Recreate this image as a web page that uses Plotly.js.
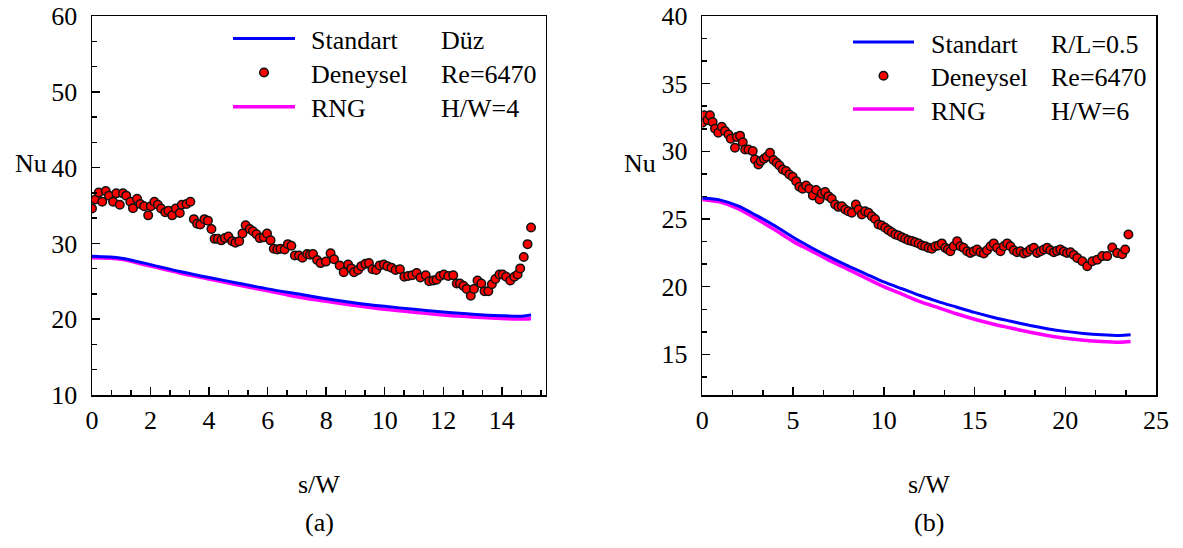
<!DOCTYPE html>
<html>
<head>
<meta charset="utf-8">
<script src="https://cdn.plot.ly/plotly-3.0.1.min.js"></script>
<style>html,body{margin:0;padding:0;background:#fff;}#chart{width:1183px;height:548px;}</style>
</head>
<body>
<div id="chart"></div>
<script>
// ---------- (a) Düz, Re=6470, H/W=4 ----------
const leftExpS = [
  0, 0.115, 0.23, 0.35, 0.47, 0.58, 0.72, 0.83, 0.95, 1.06,
  1.17, 1.31, 1.40, 1.54, 1.65, 1.78, 1.92, 2.01, 2.13, 2.25,
  2.36, 2.50, 2.61, 2.74, 2.86, 3.00, 3.07, 3.23, 3.36, 3.48,
  3.59, 3.70, 3.84, 3.96, 4.08, 4.19, 4.30, 4.42, 4.54, 4.66,
  4.79, 4.90, 5.03, 5.14, 5.25, 5.39, 5.50, 5.62, 5.73, 5.87,
  5.98, 6.10, 6.21, 6.33, 6.44, 6.58, 6.69, 6.81, 6.93, 7.07,
  7.19, 7.35, 7.45, 7.55, 7.69, 7.81, 7.99, 8.15, 8.27, 8.46,
  8.60, 8.75, 8.86, 8.95, 9.09, 9.20, 9.34, 9.46, 9.58, 9.71,
  9.83, 9.97, 10.09, 10.23, 10.37, 10.52, 10.67, 10.80, 10.94, 11.09,
  11.22, 11.40, 11.52, 11.66, 11.77, 11.89, 12.02, 12.17, 12.34, 12.46,
  12.57, 12.69, 12.80, 12.94, 13.05, 13.17, 13.30, 13.41, 13.54, 13.66,
  13.78, 13.92, 14.03, 14.15, 14.29, 14.43, 14.54, 14.63, 14.75, 14.88, 15.0
];
const leftExpNu = [
  34.6, 35.8, 36.7, 35.5, 36.9, 36.3, 35.5, 36.6, 35.1, 36.6,
  36.3, 35.5, 34.65, 35.9, 35.2, 34.9, 33.7, 34.9, 35.5, 35.1,
  34.6, 34.1, 34.3, 33.7, 34.6, 34.0, 35.1, 35.2, 35.5, 33.2,
  32.6, 32.5, 33.2, 33.0, 31.9, 30.6, 30.6, 30.4, 30.7, 30.9,
  30.3, 30.1, 30.3, 31.3, 32.4, 31.9, 31.6, 31.2, 30.7, 30.8,
  31.3, 30.4, 29.3, 29.2, 29.3, 29.2, 29.9, 29.7, 28.4, 28.4,
  28.1, 28.6, 28.5, 28.6, 27.8, 27.4, 27.6, 28.7, 27.9, 27.1,
  26.2, 27.2, 26.7, 26.2, 26.5, 27.0, 27.3, 27.4, 26.6, 26.5,
  27.1, 27.2, 27.0, 26.8, 26.5, 26.6, 25.6, 25.7, 25.8, 26.1,
  25.5, 25.8, 25.0, 25.1, 25.2, 25.7, 25.9, 25.7, 25.8, 24.7,
  24.7, 24.4, 24.0, 23.1, 24.0, 25.1, 24.7, 23.7, 23.7, 24.6,
  25.3, 25.9, 25.9, 25.6, 25.1, 25.6, 25.9, 26.7, 28.2, 29.9, 32.1
];
const leftModelS  = [0, 1, 2, 3, 4, 5, 6, 7, 8, 9, 10, 11, 12, 13, 14, 14.7, 15];
const leftStdNu   = [28.3, 28.05, 27.2, 26.3, 25.5, 24.75, 24.0, 23.35, 22.7, 22.15, 21.7, 21.3, 20.95, 20.65, 20.45, 20.4, 20.55];
const leftRngNu   = [28.1, 27.9, 27.0, 26.1, 25.3, 24.5, 23.75, 22.95, 22.35, 21.8, 21.3, 20.9, 20.55, 20.3, 20.1, 20.02, 20.05];

// ---------- (b) R/L=0.5, Re=6470, H/W=6 ----------
const rightExpS = [
  0, 0.09, 0.28, 0.42, 0.57, 0.70, 0.88, 1.07, 1.25, 1.44,
  1.57, 1.80, 1.90, 2.08, 2.23, 2.36, 2.54, 2.78, 2.90, 3.09,
  3.22, 3.40, 3.55, 3.73, 3.92, 4.10, 4.25, 4.43, 4.62, 4.80,
  4.98, 5.17, 5.35, 5.53, 5.72, 5.90, 6.09, 6.27, 6.46, 6.58,
  6.77, 6.95, 7.13, 7.32, 7.50, 7.69, 7.87, 8.05, 8.24, 8.46,
  8.61, 8.79, 8.97, 9.16, 9.34, 9.52, 9.71, 9.89, 10.08, 10.26,
  10.44, 10.63, 10.81, 11.00, 11.18, 11.36, 11.55, 11.73, 11.92, 12.10,
  12.28, 12.47, 12.65, 12.84, 13.02, 13.20, 13.39, 13.53, 13.67, 13.85,
  14.04, 14.22, 14.40, 14.59, 14.77, 14.96, 15.14, 15.32, 15.51, 15.69,
  15.88, 16.06, 16.24, 16.43, 16.61, 16.80, 16.98, 17.16, 17.35, 17.53,
  17.72, 17.90, 18.08, 18.27, 18.45, 18.64, 18.82, 19.00, 19.18, 19.37,
  19.55, 19.73, 19.92, 20.10, 20.29, 20.47, 20.66, 20.94, 21.21, 21.49,
  21.76, 22.04, 22.31, 22.59, 22.86, 23.14, 23.30, 23.48
];
const rightExpNu = [
  32.12, 32.66, 32.31, 32.66, 32.16, 31.67, 31.38, 31.82, 31.5, 31.25,
  30.93, 30.27, 31.06, 31.16, 30.67, 30.14, 30.14, 30.02, 29.4, 29.03,
  29.28, 29.45, 29.6, 29.9, 29.36, 29.16, 28.96, 28.66, 28.54, 28.29,
  28.12, 27.8, 27.38, 27.24, 27.48, 27.24, 26.74, 27.14, 26.45, 26.89,
  26.99, 26.69, 26.5, 26.08, 25.9, 25.95, 25.7, 25.58, 25.46, 26.08,
  25.7, 25.33, 25.58, 25.46, 25.21, 25.0, 24.6, 24.52, 24.35, 24.18,
  24.03, 23.86, 23.78, 23.66, 23.54, 23.44, 23.37, 23.29, 23.19, 23.04,
  22.99, 22.87, 22.8, 22.99, 23.04, 23.2, 22.87, 22.75, 22.62, 22.99,
  23.36, 22.99, 22.87, 22.62, 22.5, 22.62, 22.75, 22.55, 22.45, 22.7,
  22.99, 23.2, 22.87, 22.62, 22.99, 23.2, 22.99, 22.7, 22.55, 22.62,
  22.45, 22.55, 22.75, 22.87, 22.5, 22.62, 22.75, 22.87, 22.7, 22.55,
  22.65, 22.75, 22.6, 22.5, 22.55, 22.35, 22.13, 21.88, 21.51, 21.88,
  22.0, 22.26, 22.26, 22.9, 22.5, 22.4, 22.75, 23.86
];
const rightModelS = [0, 1, 2, 3, 4, 5, 6, 7, 8, 9, 10, 11, 12, 13, 14, 15, 16, 17, 18, 19, 20, 21, 22, 23, 23.6];
const rightStdNu  = [26.55, 26.4, 25.95, 25.25, 24.5, 23.65, 22.9, 22.2, 21.55, 20.95, 20.35, 19.85, 19.35, 18.9, 18.5, 18.1, 17.75, 17.45, 17.15, 16.9, 16.7, 16.55, 16.45, 16.4, 16.45];
const rightRngNu  = [26.45, 26.25, 25.75, 25.0, 24.2, 23.35, 22.65, 21.95, 21.3, 20.65, 20.0, 19.45, 18.9, 18.45, 18.0, 17.6, 17.25, 16.95, 16.65, 16.4, 16.2, 16.05, 15.95, 15.9, 15.95];

// ---------- texts ----------
const seriesNames = ['Standart', 'Deneysel', 'RNG'];
const leftInfo  = ['Düz', 'Re=6470', 'H/W=4'];
const rightInfo = ['R/L=0.5', 'Re=6470', 'H/W=6'];
const xTitle = 's/W', yTitle = 'Nu';
const panelLabels = ['(a)', '(b)'];

// ---------- styling ----------
const FONT = 'Liberation Serif';
const FS = 26;
const BLUE = '#0000ff', MAG = '#ff00ff', RED = '#ff0000';
const W = 1183, H = 548;
const M = {l: 92, r: 27, t: 16, b: 153};
const PW = W - M.l - M.r, PH = H - M.t - M.b;
const px = x => (x - M.l) / PW;
const py = y => (H - M.b - y) / PH;

function lineTrace(x, y, color, width, xa, ya) {
  return {x, y, type: 'scatter', mode: 'lines', xaxis: xa, yaxis: ya,
    line: {color, width, shape: 'spline', smoothing: 0.8}, showlegend: false, hoverinfo: 'skip'};
}
function markerTrace(x, y, xa, ya) {
  return {x, y, type: 'scatter', mode: 'markers', xaxis: xa, yaxis: ya,
    marker: {color: RED, size: 8.5, line: {color: '#111', width: 1.5}}, showlegend: false};
}

const data = [
  lineTrace(leftModelS, leftRngNu, MAG, 3.5, 'x', 'y'),
  lineTrace(leftModelS, leftStdNu, BLUE, 3, 'x', 'y'),
  markerTrace(leftExpS, leftExpNu, 'x', 'y'),
  lineTrace(rightModelS, rightRngNu, MAG, 3.5, 'x2', 'y2'),
  lineTrace(rightModelS, rightStdNu, BLUE, 3, 'x2', 'y2'),
  markerTrace(rightExpS, rightExpNu, 'x2', 'y2')
];

function axis(extra) {
  return Object.assign({
    showline: true, linecolor: '#000', linewidth: 1.5, mirror: true,
    showgrid: false, zeroline: false,
    ticks: 'inside', ticklen: 8, tickwidth: 1.5, tickcolor: '#000',
    tickfont: {family: FONT, size: FS, color: '#000'},
    fixedrange: true
  }, extra);
}

const layout = {
  width: W, height: H, margin: M,
  paper_bgcolor: '#fff', plot_bgcolor: '#fff',
  showlegend: false,
  font: {family: FONT, size: FS, color: '#000'},
  xaxis: axis({domain: [0, (545.7 - M.l) / PW], range: [0, 15.5], tick0: 0, dtick: 2, anchor: 'y',
    ticklabelstandoff: 1,
    minor: {tick0: 0, dtick: 2 / 3, ticks: 'inside', ticklen: 5, tickwidth: 1.5, tickcolor: '#000', showgrid: false}}),
  yaxis: axis({domain: [0, 1], range: [10, 60], tick0: 0, dtick: 10, anchor: 'x',
    ticklabelstandoff: 8,
    minor: {tick0: 0, dtick: 10 / 3, ticks: 'inside', ticklen: 5, tickwidth: 1.5, tickcolor: '#000', showgrid: false}}),
  xaxis2: axis({domain: [(702.3 - M.l) / PW, 1], range: [0, 25], tick0: 0, dtick: 5, anchor: 'y2',
    ticklabelstandoff: 1,
    minor: {tick0: 0, dtick: 5 / 3, ticks: 'inside', ticklen: 5, tickwidth: 1.5, tickcolor: '#000', showgrid: false}}),
  yaxis2: axis({domain: [0, 1], range: [12, 40], tick0: 0, dtick: 5, anchor: 'x2',
    ticklabelstandoff: 8,
    minor: {tick0: 0, dtick: 5 / 3, ticks: 'inside', ticklen: 5, tickwidth: 1.5, tickcolor: '#000', showgrid: false}}),
  shapes: [],
  annotations: []
};

function txt(text, x, y, xanchor) {
  layout.annotations.push({text, xref: 'paper', yref: 'paper', x: px(x), y: py(y),
    xanchor: xanchor || 'center', yanchor: 'middle', showarrow: false,
    font: {family: FONT, size: FS, color: '#000'}});
}

// legend built from shapes + text
function legend(lx0, lx1, ys, textX, infoX, info) {
  layout.shapes.push({type: 'line', xref: 'paper', yref: 'paper', x0: px(lx0), x1: px(lx1), y0: py(ys[0]), y1: py(ys[0]), line: {color: BLUE, width: 3}});
  const cx = (lx0 + lx1) / 2, r = 4.3;
  layout.shapes.push({type: 'circle', xref: 'paper', yref: 'paper', x0: px(cx - r), x1: px(cx + r), y0: py(ys[1] + r), y1: py(ys[1] - r), fillcolor: RED, line: {color: '#111', width: 1.5}});
  layout.shapes.push({type: 'line', xref: 'paper', yref: 'paper', x0: px(lx0), x1: px(lx1), y0: py(ys[2]), y1: py(ys[2]), line: {color: MAG, width: 3.5}});
  for (let i = 0; i < 3; i++) {
    txt(seriesNames[i], textX, ys[i] + 2, 'left');
    txt(info[i], infoX, ys[i] + 2, 'left');
  }
}
legend(233, 295, [38.5, 72.5, 106.7], 309, 439, leftInfo);
legend(853, 914, [42, 75.7, 109], 929, 1049, rightInfo);

txt(yTitle, 31, 163);
txt(yTitle, 640, 163);
txt(xTitle, 319, 484);
txt(xTitle, 929, 484);
txt(panelLabels[0], 319, 522);
txt(panelLabels[1], 929, 522);

Plotly.newPlot('chart', data, layout, {displayModeBar: false, staticPlot: true});
</script>
</body>
</html>
